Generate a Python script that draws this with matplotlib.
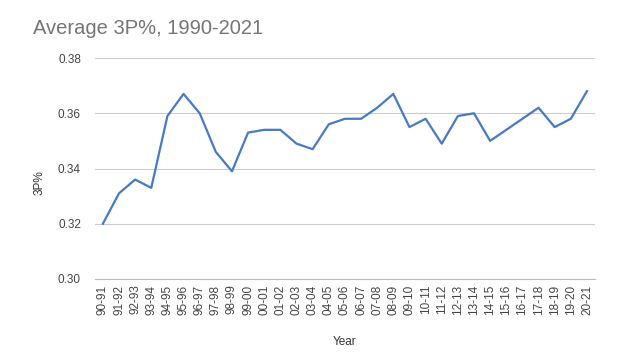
import matplotlib

matplotlib.use("Agg")
import matplotlib.pyplot as plt

seasons = [
    "90-91", "91-92", "92-93", "93-94", "94-95", "95-96", "96-97", "97-98",
    "98-99", "99-00", "00-01", "01-02", "02-03", "03-04", "04-05", "05-06",
    "06-07", "07-08", "08-09", "09-10", "10-11", "11-12", "12-13", "13-14",
    "14-15", "15-16", "16-17", "17-18", "18-19", "19-20", "20-21",
]
three_pct = [
    0.320, 0.331, 0.336, 0.333, 0.359, 0.367, 0.360, 0.346,
    0.339, 0.353, 0.354, 0.354, 0.349, 0.347, 0.356, 0.358,
    0.358, 0.362, 0.367, 0.355, 0.358, 0.349, 0.359, 0.360,
    0.350, 0.354, 0.358, 0.362, 0.355, 0.358, 0.368,
]
y_ticks = [0.30, 0.32, 0.34, 0.36, 0.38]

plt.rcParams["font.family"] = ["Liberation Sans", "DejaVu Sans"]

fig = plt.figure(figsize=(6.32, 3.57), dpi=100)
ax = fig.add_axes([0.150, 0.2185, 0.7915, 0.619])

x = list(range(len(seasons)))
ax.plot(x, three_pct, color="#4779c4", linewidth=1.6, zorder=3)

ax.set_xlim(-0.5, len(seasons) - 0.5)
ax.set_ylim(0.30, 0.38)
ax.set_yticks(y_ticks)
ax.set_yticklabels([f"{v:.2f}" for v in y_ticks])
ax.set_xticks(x)
ax.set_xticklabels(seasons, rotation=90)
ax.tick_params(axis="both", length=0, labelsize=8.5, colors="#444444")
ax.tick_params(axis="x", pad=4)
ax.tick_params(axis="y", pad=10)

ax.grid(axis="y", color="#cccccc", linewidth=0.8)
ax.set_axisbelow(True)
for side in ["top", "right", "left"]:
    ax.spines[side].set_visible(False)
ax.spines["bottom"].set_color("#bbbbbb")
ax.spines["bottom"].set_linewidth(0.8)

ax.set_xlabel("Year", fontsize=8.5, color="#333333", labelpad=15)
ax.set_ylabel("3P%", fontsize=8.5, color="#333333", va="center")
ax.yaxis.set_label_coords(-0.11, 0.434)

fig.text(0.052, 0.92, "Average 3P%, 1990-2021", fontsize=14.5, color="#757575",
         ha="left", va="center")

fig.savefig("out.png", dpi=100)
plt.close(fig)
